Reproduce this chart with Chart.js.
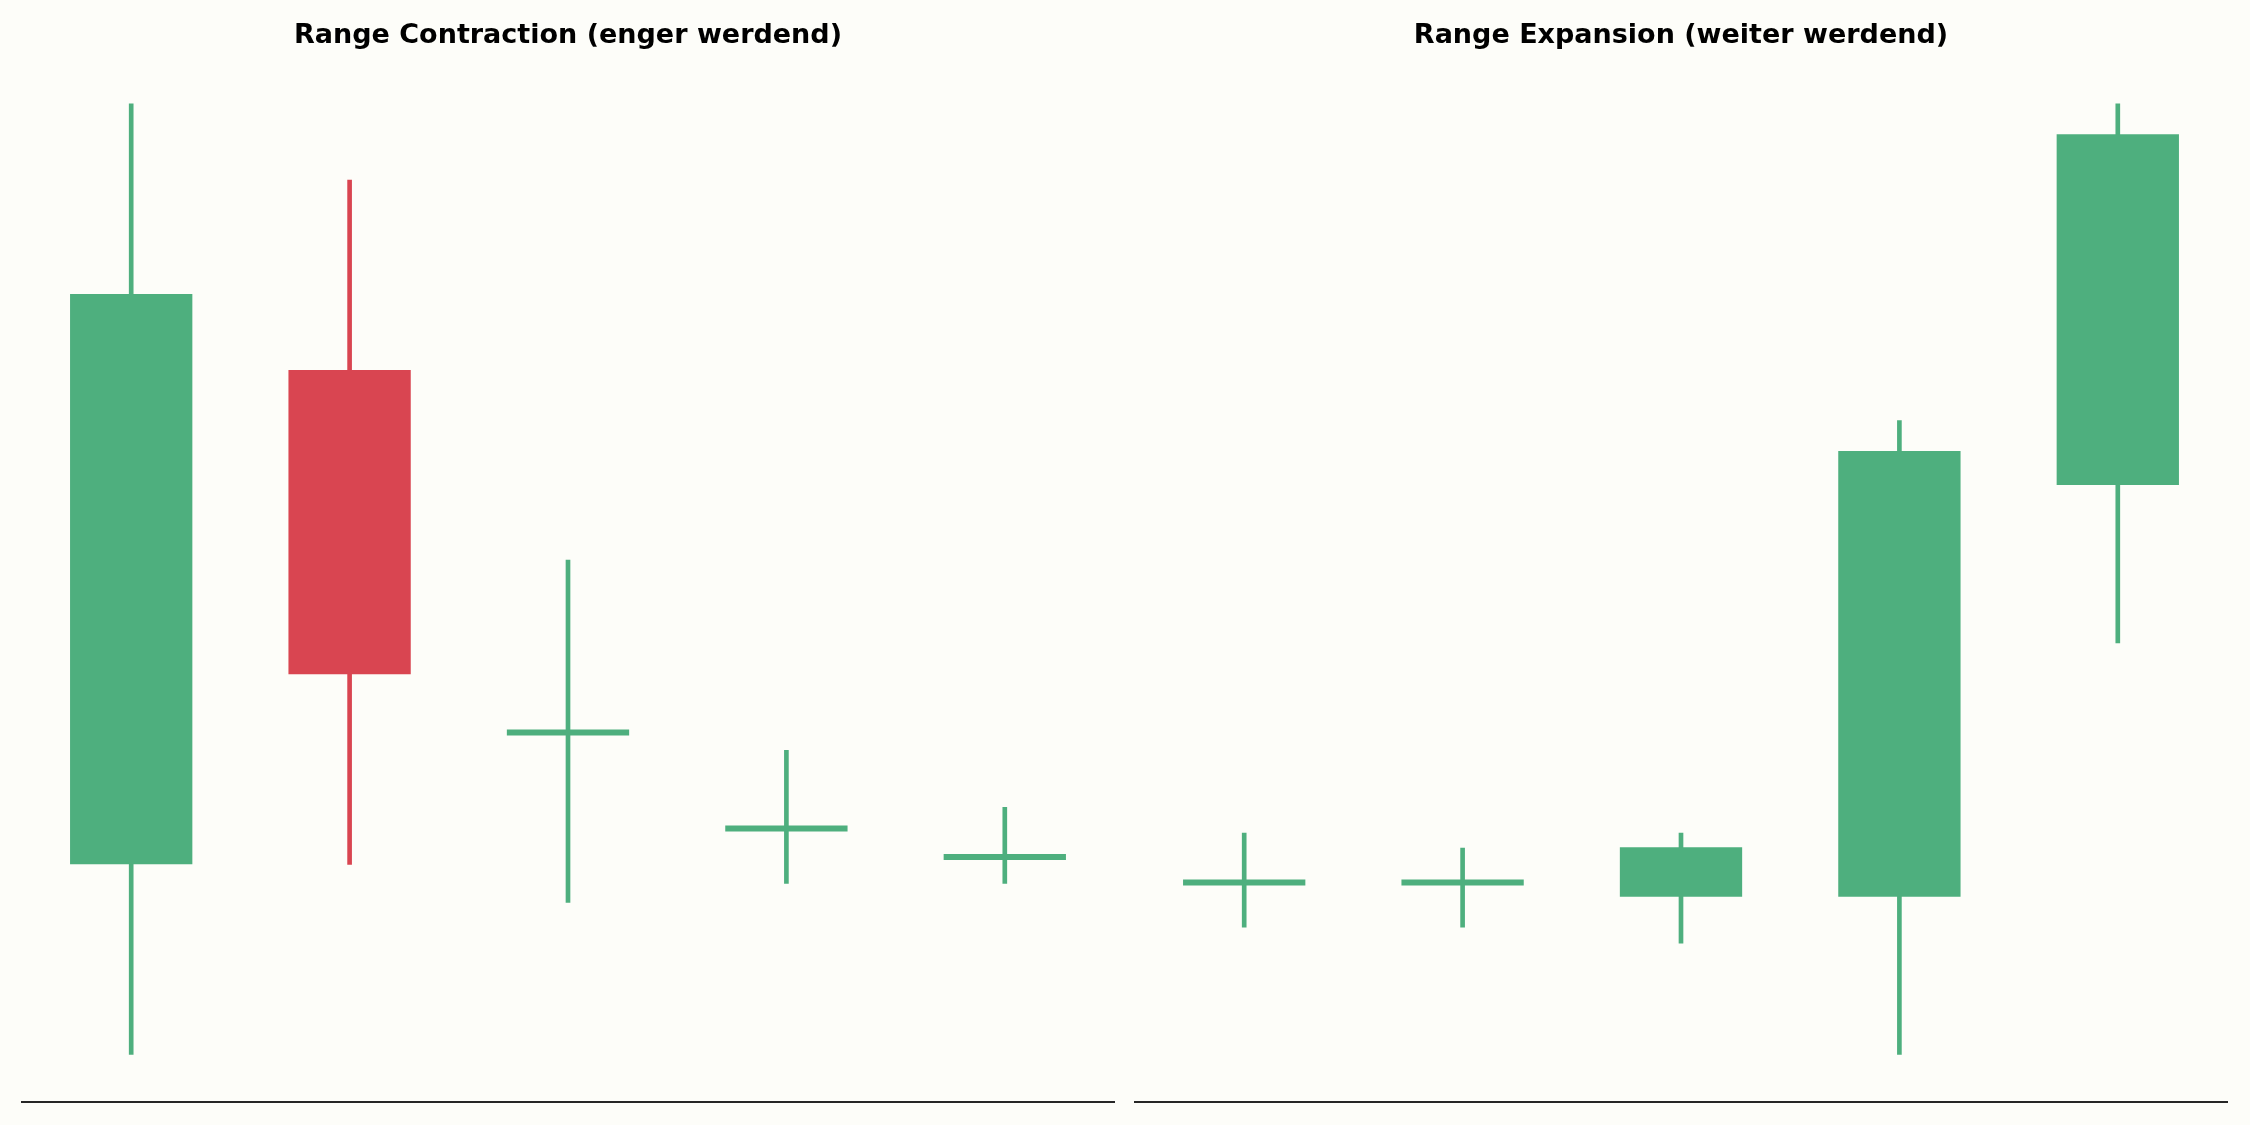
<!DOCTYPE html>
<html lang="de">
<head>
<meta charset="UTF-8">
<title>Range Contraction / Range Expansion</title>
<script src="https://cdn.jsdelivr.net/npm/chart.js"></script>
<style>
  html, body { margin: 0; padding: 0; background: #fdfdf9; }
  .panel { position: absolute; top: 0; width: 1125px; height: 1125px; }
</style>
</head>
<body>
<div class="panel" style="left:0"><canvas id="contraction" width="1125" height="1125"></canvas></div>
<div class="panel" style="left:1125px"><canvas id="expansion" width="1125" height="1125"></canvas></div>

<script>
// Kerzen-Daten (relative Kurseinheiten)
const categories = ['1', '2', '3', '4', '5'];

const contractionOpen  = [20, 72, 34.2, 24.1, 21.1];
const contractionClose = [80, 40, 34.2, 24.1, 21.1];
const contractionHigh  = [100, 92, 52, 32, 26];
const contractionLow   = [0, 20, 16, 18, 18];

const expansionOpen  = [18.4, 18.4, 16.6, 16.6, 59.9];
const expansionClose = [18.4, 18.4, 21.8, 63.5, 96.8];
const expansionHigh  = [23.3, 21.7, 23.3, 66.7, 100];
const expansionLow   = [13.4, 13.4, 11.7, 0, 43.3];

const green = '#4eaf7e';
const red = '#d94551';

function candleChart(id, title, open, close, high, low, pad) {
    const colors = open.map((o, i) => close[i] >= o ? green : red);
    const ctx = document.getElementById(id).getContext('2d');
    return new Chart(ctx, {
        type: 'bar',
        data: {
            labels: categories,
            datasets: [
                {
                    // Körper
                    data: open.map((o, i) => [o, close[i]]),
                    backgroundColor: colors,
                    borderWidth: 0,
                    barPercentage: 0.56,
                    categoryPercentage: 1,
                    minBarLength: 6,
                    grouped: false
                },
                {
                    // Dochte
                    data: low.map((l, i) => [l, high[i]]),
                    backgroundColor: colors,
                    borderWidth: 0,
                    barThickness: 4,
                    grouped: false
                }
            ]
        },
        options: {
            responsive: false,
            animation: false,
            devicePixelRatio: 1,
            layout: { padding: pad },
            plugins: {
                legend: { display: false },
                tooltip: { enabled: false },
                title: {
                    display: true,
                    text: title,
                    color: '#000',
                    font: { family: 'DejaVu Sans', size: 27, weight: 'bold' },
                    padding: { top: 20, bottom: 4 }
                }
            },
            scales: {
                x: {
                    grid: { display: false, drawTicks: false },
                    ticks: { display: false },
                    border: { display: true, color: '#262626', width: 2 }
                },
                y: {
                    display: false,
                    min: -5,
                    max: 105
                }
            }
        }
    });
}

candleChart('contraction', 'Range Contraction (enger werdend)',
    contractionOpen, contractionClose, contractionHigh, contractionLow,
    { left: 22, right: 11, top: 0, bottom: 23 });

candleChart('expansion', 'Range Expansion (weiter werdend)',
    expansionOpen, expansionClose, expansionHigh, expansionLow,
    { left: 10, right: 23, top: 0, bottom: 23 });
</script>
</body>
</html>
